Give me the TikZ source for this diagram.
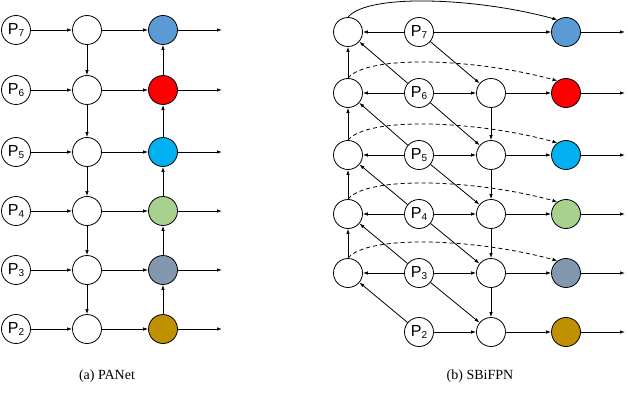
\documentclass[tikz,border=0pt]{standalone}
\usepackage{fontspec}
\setmainfont{Liberation Serif}
\newfontfamily\labfont{Liberation Sans}
\usetikzlibrary{arrows.meta}
\definecolor{cA}{HTML}{5B9BD5}
\definecolor{cB}{HTML}{FF0000}
\definecolor{cC}{HTML}{00B0F0}
\definecolor{cD}{HTML}{A9D18E}
\definecolor{cE}{HTML}{8497B0}
\definecolor{cF}{HTML}{BF9000}
\newcommand\Plbl[1]{P\raisebox{-2.5pt}{\fontsize{10}{10}\selectfont #1}}
\begin{document}
\begin{tikzpicture}[x=1pt,y=-1pt,
  nd/.style={circle,draw,line width=0.8pt,minimum size=29pt,inner sep=0pt,fill=white},
  plab/.style={nd,font=\labfont\fontsize{16}{16}\selectfont},
  arr/.style={-{Latex[length=5pt,width=3.5pt]},line width=0.8pt},
  dsh/.style={arr,dash pattern=on 4pt off 3pt},
  captxt/.style={font=\fontsize{14}{14}\selectfont}]
\useasboundingbox (0,0) rectangle (628,406);
% ---------- (a) PANet ----------
\foreach \i/\y/\k/\c in {1/30/7/cA,2/90/6/cB,3/152/5/cC,4/211/4/cD,5/270/3/cE,6/329/2/cF}{
  \node[plab] (aP\i) at (16,\y) {\Plbl{\k}};
  \node[nd] (aM\i) at (87,\y) {};
  \node[nd,fill=\c] (aO\i) at (163,\y) {};
  \coordinate (aE\i) at (222,\y);
  \draw[arr] (aP\i) -- (aM\i);
  \draw[arr] (aM\i) -- (aO\i);
  \draw[arr] (aO\i) -- (aE\i);
}
\foreach \i/\j in {1/2,2/3,3/4,4/5,5/6}{
  \draw[arr] (aM\i) -- (aM\j);
  \draw[arr] (aO\j) -- (aO\i);
}
\node[captxt] (capa) at (107,376) {(a) PANet};
% ---------- (b) SBiFPN ----------
\foreach \i/\y/\k/\c in {1/32/7/cA,2/93/6/cB,3/155/5/cC,4/214/4/cD,5/273/3/cE,6/332/2/cF}{
  \node[plab] (bP\i) at (419,\y) {\Plbl{\k}};
  \node[nd,fill=\c] (bO\i) at (566,\y) {};
  \coordinate (bE\i) at (625,\y);
  \draw[arr] (bO\i) -- (bE\i);
}
\foreach \i/\y in {1/32,2/93,3/155,4/214,5/273}{
  \node[nd] (bL\i) at (348,\y) {};
  \draw[arr] (bP\i) -- (bL\i);
}
\foreach \i/\y in {2/93,3/155,4/214,5/273,6/332}{
  \node[nd] (bM\i) at (491,\y) {};
  \draw[arr] (bP\i) -- (bM\i);
  \draw[arr] (bM\i) -- (bO\i);
}
\draw[arr] (bP1) -- (bO1);
\foreach \i/\j in {1/2,2/3,3/4,4/5,5/6}{
  \draw[arr] (bP\j) -- (bL\i);
  \draw[arr] (bP\i) -- (bM\j);
}
\foreach \i/\j in {1/2,2/3,3/4,4/5}{
  \draw[arr] (bL\j) -- (bL\i);
}
\foreach \i/\j in {2/3,3/4,4/5,5/6}{
  \draw[arr] (bM\i) -- (bM\j);
}
\draw[arr] (bL1.north) .. controls +(20,-24) and +(-80,-22) .. (bO1.125);
\foreach \i in {2,3,4,5}{
  \draw[dsh] (bL\i.north) .. controls +(20,-24) and +(-80,-22) .. (bO\i.125);
}
\node[captxt] (capb) at (480,376) {(b) SBiFPN};
\end{tikzpicture}
\end{document}
